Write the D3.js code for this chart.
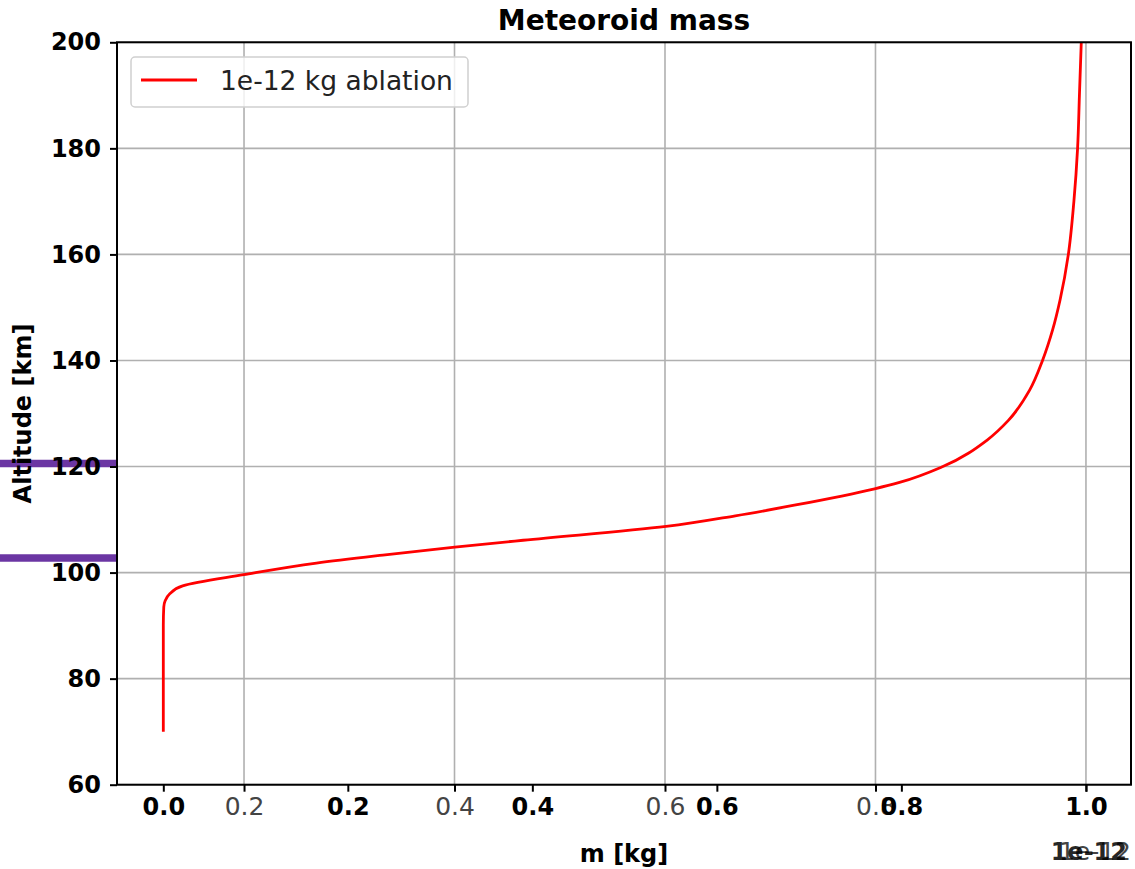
<!DOCTYPE html>
<html><head><meta charset="utf-8">
<script src="https://cdn.jsdelivr.net/npm/d3@7"></script>
<style>body{margin:0;background:#fff}svg{display:block}text{font-family:"DejaVu Sans",sans-serif}</style>
</head><body><svg id="c" width="1135" height="869"></svg>
<script>
// Data (mass in units of 1e-12 kg)
const altitude = [70, 80, 90, 93.5, 94.7, 96.0, 97.5, 99.6, 101.8, 103.3, 104.8, 106.1, 108.7, 110.7, 112.7, 115.8, 117.0, 120.0, 125.0, 128.7, 134.4, 140.0, 145.8, 151.4, 160, 170, 180, 190, 200];
const mass = [0, 0, 0, 0.0005, 0.002, 0.007, 0.021, 0.087, 0.166, 0.238, 0.316, 0.39, 0.545, 0.62, 0.684, 0.771, 0.798, 0.845, 0.893, 0.916, 0.939, 0.953, 0.964, 0.972, 0.981, 0.987, 0.991, 0.993, 0.995];
const yTicks = [60, 80, 100, 120, 140, 160, 180, 200];
const xTicksBold = [0.0, 0.2, 0.4, 0.6, 0.8, 1.0];
const xTicksLight = [0.2, 0.4, 0.6, 0.8, 1.0];
const markerAltitudes = [120.55, 102.77];
const seriesName = "1e-12 kg ablation";
const offsetText = "1e-12";

const L = 117, R = 1131, T = 42.3, B = 784.7;
const svg = d3.select("#c");
const x = d3.scaleLinear().domain([-0.0502, 1.0489]).range([L, R]);
const xLight = d3.scaleLinear().domain([0.0793, 1.0428]).range([L, R]);
const y = d3.scaleLinear().domain([60, 200]).range([B, T]);

// grid
const g = svg.append("g");
g.selectAll(".gx").data(xTicksLight).join("line")
  .attr("x1", d => xLight(d)).attr("x2", d => xLight(d)).attr("y1", T).attr("y2", B)
  .attr("stroke", "#b0b0b0").attr("stroke-width", 1.6);
g.selectAll(".gy").data(yTicks).join("line")
  .attr("x1", L).attr("x2", R).attr("y1", d => y(d)).attr("y2", d => y(d))
  .attr("stroke", "#b0b0b0").attr("stroke-width", 1.6);

// line
const line = d3.line().x((d, i) => x(mass[i])).y((d, i) => y(altitude[i])).curve(d3.curveMonotoneY);
svg.append("path").datum(altitude).attr("d", line).attr("fill", "none")
  .attr("stroke", "#ff0000").attr("stroke-width", 2.8);

// markers on the left
svg.selectAll(".mk").data(markerAltitudes).join("line")
  .attr("x1", 0).attr("x2", L).attr("y1", d => y(d)).attr("y2", d => y(d))
  .attr("stroke", "#6b36a3").attr("stroke-width", 7.5);

// axes
const yAxis = d3.axisLeft(y).tickValues(yTicks).tickSize(7).tickPadding(9).tickFormat(d3.format("d"));
const ya = svg.append("g").attr("transform", `translate(${L},0)`).call(yAxis);
ya.select(".domain").remove();
ya.selectAll("line").attr("stroke", "#000").attr("stroke-width", 2);
ya.selectAll("text").attr("font-size", 24).attr("font-weight", "bold").attr("fill", "#000")
  .attr("font-family", "DejaVu Sans");

const xaL = svg.append("g").attr("transform", `translate(0,${B})`)
  .call(d3.axisBottom(xLight).tickValues(xTicksLight).tickSize(7).tickPadding(6).tickFormat(d3.format(".1f")));
xaL.select(".domain").remove();
xaL.selectAll("line").attr("stroke", "#000").attr("stroke-width", 2);
xaL.selectAll("text").attr("font-size", 25).attr("fill", "#444").attr("font-family", "DejaVu Sans");

const xaB = svg.append("g").attr("transform", `translate(0,${B})`)
  .call(d3.axisBottom(x).tickValues(xTicksBold).tickSize(7).tickPadding(6).tickFormat(d3.format(".1f")));
xaB.select(".domain").remove();
xaB.selectAll("line").attr("stroke", "#000").attr("stroke-width", 2);
xaB.selectAll("text").attr("font-size", 24).attr("font-weight", "bold").attr("fill", "#000")
  .attr("font-family", "DejaVu Sans");

// spines
svg.append("rect").attr("x", L).attr("y", T).attr("width", R - L).attr("height", B - T)
  .attr("fill", "none").attr("stroke", "#000").attr("stroke-width", 2);

// title and labels
svg.append("text").attr("x", (L + R) / 2).attr("y", 30).attr("text-anchor", "middle")
  .attr("font-size", 28).attr("font-weight", "bold").text("Meteoroid mass");
svg.append("text").attr("x", (L + R) / 2).attr("y", 862).attr("text-anchor", "middle")
  .attr("font-size", 24).attr("font-weight", "bold").text("m [kg]");
svg.append("text").attr("transform", `translate(31,${(T + B) / 2}) rotate(-90)`).attr("text-anchor", "middle")
  .attr("font-size", 24).attr("font-weight", "bold").text("Altitude [km]");
svg.append("text").attr("x", R).attr("y", 860).attr("text-anchor", "end")
  .attr("font-size", 25).attr("fill", "#444").text(offsetText);
svg.append("text").attr("x", R - 4).attr("y", 860).attr("text-anchor", "end")
  .attr("font-size", 24).attr("font-weight", "bold").attr("fill", "#000").attr("fill-opacity", 0.85).text(offsetText);

// legend
const lg = svg.append("g");
lg.append("rect").attr("x", 131).attr("y", 57).attr("width", 337).attr("height", 50).attr("rx", 4)
  .attr("fill", "#fff").attr("fill-opacity", 0.8).attr("stroke", "#d0d0d0").attr("stroke-width", 1.5);
lg.append("line").attr("x1", 141).attr("x2", 197).attr("y1", 80).attr("y2", 80)
  .attr("stroke", "#ff0000").attr("stroke-width", 2.8);
lg.append("text").attr("x", 220).attr("y", 90).attr("font-size", 26.5).attr("fill", "#222").text(seriesName);
</script></body></html>
